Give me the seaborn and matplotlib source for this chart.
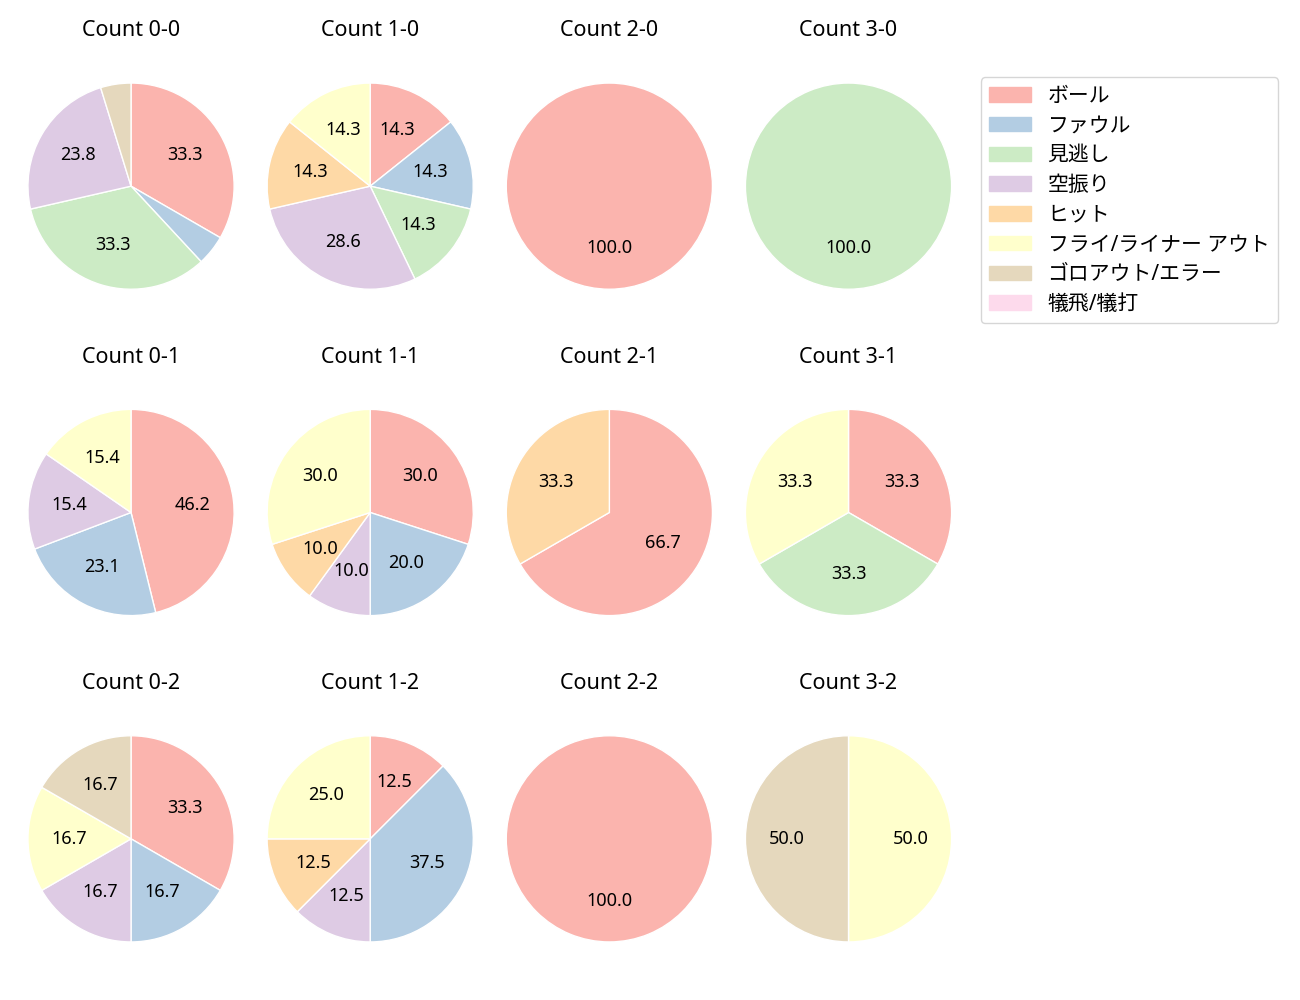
import matplotlib
matplotlib.use("Agg")
import matplotlib.pyplot as plt
import matplotlib.patches as mpatches
import seaborn as sns

sns.set_theme(style="white")
plt.rcParams['font.family'] = ['Noto Sans', 'Noto Sans CJK JP', 'DejaVu Sans']
plt.rcParams['text.color'] = 'black'

categories = ["ボール", "ファウル", "見逃し", "空振り", "ヒット",
              "フライ/ライナー アウト", "ゴロアウト/エラー", "犠飛/犠打"]

counts_titles = [["Count 0-0", "Count 1-0", "Count 2-0", "Count 3-0"],
                 ["Count 0-1", "Count 1-1", "Count 2-1", "Count 3-1"],
                 ["Count 0-2", "Count 1-2", "Count 2-2", "Count 3-2"]]

# values per category in order of `categories`
c00 = [7, 1, 7, 5, 0, 0, 1, 0]
c10 = [1, 1, 1, 2, 1, 1, 0, 0]
c20 = [1, 0, 0, 0, 0, 0, 0, 0]
c30 = [0, 0, 1, 0, 0, 0, 0, 0]
c01 = [6, 3, 0, 2, 0, 2, 0, 0]
c11 = [3, 2, 0, 1, 1, 3, 0, 0]
c21 = [2, 0, 0, 0, 1, 0, 0, 0]
c31 = [1, 0, 1, 0, 0, 1, 0, 0]
c02 = [2, 1, 0, 1, 0, 1, 1, 0]
c12 = [1, 3, 0, 1, 1, 2, 0, 0]
c22 = [1, 0, 0, 0, 0, 0, 0, 0]
c32 = [0, 0, 0, 0, 0, 1, 1, 0]

data = [[c00, c10, c20, c30], [c01, c11, c21, c31], [c02, c12, c22, c32]]

colors = sns.color_palette("Pastel1", 9)[:8]

fig, axes = plt.subplots(3, 4, figsize=(13, 10), dpi=100)
fig.subplots_adjust(left=0.0215, right=0.732, top=0.958, bottom=0.017,
                    wspace=0.16, hspace=0.132)

for r in range(3):
    for c in range(4):
        ax = axes[r][c]
        vals = data[r][c]
        idx = [i for i, v in enumerate(vals) if v > 0]
        v = [vals[i] for i in idx]
        col = [colors[i] for i in idx]
        ax.pie(v, colors=col, startangle=90, counterclock=False,
               autopct=lambda p: f"{p:.1f}" if p >= 5 else "",
               pctdistance=0.6, textprops={'fontsize': 13, 'color': 'black'})
        ax.set_title(counts_titles[r][c], fontsize=15.5, color='black', pad=4)
        ax.set_aspect('equal', adjustable='datalim')
        ax.set_xlim(-1.0, 1.0)
        ax.set_ylim(-1.0, 1.0)

handles = [mpatches.Patch(color=colors[i], label=categories[i]) for i in range(8)]
fig.legend(handles=handles, loc='upper left', bbox_to_anchor=(0.7465, 0.933),
           fontsize=15, labelspacing=0.42, frameon=True)

fig.savefig("out.png", dpi=100)
